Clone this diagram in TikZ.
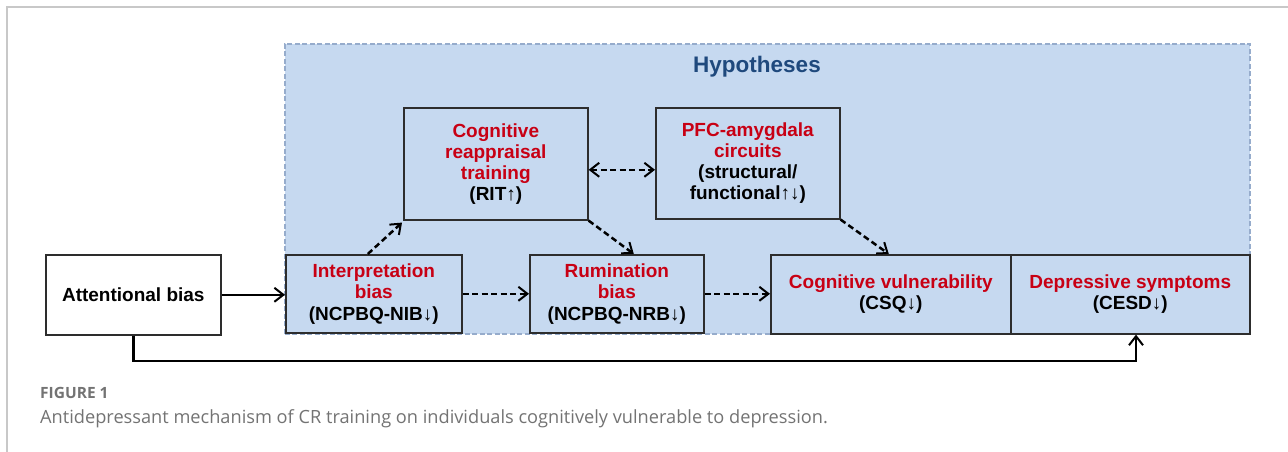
\documentclass[tikz,border=0pt]{standalone}
\usepackage{fontspec}
\setmainfont{Liberation Sans}
\newfontfamily\capfont{Open Sans}
\usetikzlibrary{arrows.meta}
\definecolor{cred}{RGB}{200,0,20}
\definecolor{hypfill}{RGB}{198,217,240}
\definecolor{hypedge}{RGB}{150,172,204}
\definecolor{titleblue}{RGB}{31,73,125}
\definecolor{edgegray}{RGB}{45,45,45}
\definecolor{framegray}{RGB}{200,200,200}
\definecolor{capgray}{RGB}{115,115,115}
\tikzset{
  box/.style={draw=edgegray, line width=1.6pt, fill=hypfill, anchor=north west,
    align=center, inner sep=2pt, font=\bfseries\fontsize{19}{21.5}\selectfont},
  whitebox/.style={box, fill=white},
  arr/.style={line width=2.5pt, -{Straight Barb[length=9pt,width=14pt,line width=2pt]}},
  darr/.style={arr, dash pattern=on 6pt off 3.5pt},
  ddarr/.style={darr, {Straight Barb[length=9pt,width=14pt,line width=2pt]}-{Straight Barb[length=9pt,width=14pt,line width=2pt]}},
}
\begin{document}
\begin{tikzpicture}[x=1pt,y=-1pt]
\useasboundingbox (0,0) rectangle (1288,452);
% outer frame
\draw[framegray, line width=1.5pt] (7,452) -- (7,7) -- (1288,7);
% hypotheses region
\node[draw=hypedge, fill=hypfill, line width=1.6pt, dash pattern=on 5pt off 2.5pt,
  anchor=north west, minimum width=965pt, minimum height=290pt, inner sep=0pt] (hyp) at (284,43) {};
\node[font=\bfseries\fontsize{22.5}{25}\selectfont, text=titleblue] (hyptitle) at (757,67) {Hypotheses};
% boxes
\node[whitebox, minimum width=175pt, minimum height=80pt] (att) at (45,254) {Attentional bias};
\node[box, minimum width=176pt, minimum height=78pt] (interp) at (285,254)
  {\textcolor{cred}{Interpretation}\\\textcolor{cred}{bias}\\(NCPBQ-NIB↓)};
\node[box, minimum width=174pt, minimum height=78pt] (rum) at (529,254)
  {\textcolor{cred}{Rumination}\\\textcolor{cred}{bias}\\(NCPBQ-NRB↓)};
\node[box, minimum width=240pt, minimum height=79pt] (cogv) at (770,254)
  {\textcolor{cred}{Cognitive vulnerability}\\(CSQ↓)};
\node[box, minimum width=239pt, minimum height=79pt] (dep) at (1010,254)
  {\textcolor{cred}{Depressive symptoms}\\(CESD↓)};
\node[box, minimum width=184pt, minimum height=112pt, font=\bfseries\fontsize{19}{21}\selectfont] (cr) at (403,107)
  {\textcolor{cred}{Cognitive}\\\textcolor{cred}{reappraisal}\\\textcolor{cred}{training}\\(RIT↑)};
\node[box, minimum width=184pt, minimum height=111pt, font=\bfseries\fontsize{19}{21}\selectfont] (pfc) at (655,107)
  {\textcolor{cred}{PFC-amygdala}\\\textcolor{cred}{circuits}\\(structural/\\functional↑↓)};
% connectors
\draw[arr] (att.east) -- (att.east -| interp.west);
\draw[darr] (interp.east) -- (interp.east -| rum.west);
\draw[darr] (rum.east) -- (rum.east -| cogv.west);
\draw[darr] ([xshift=-6pt]interp.north) -- ([xshift=-1pt,yshift=-2pt]cr.south west);
\draw[darr] (cr.south east) -- ([xshift=17pt]rum.north);
\draw[ddarr] ([yshift=-6pt]cr.east) -- ([yshift=-6pt]cr.east -| pfc.west);
\draw[darr] (pfc.south east) -- ([xshift=-2pt]cogv.north);
\coordinate (bl) at (1136,361);
\draw[arr] (att.south) |- (bl) -- (bl |- dep.south);
% caption
\node[anchor=base west, inner sep=0pt, text=capgray, font=\capfont\bfseries\fontsize{15.5}{17}\selectfont] (figlab) at (40,398) {FIGURE 1};
\node[anchor=base west, inner sep=0pt, text=capgray, font=\capfont\fontsize{18.2}{21}\selectfont] (caption) at (40,423) {Antidepressant mechanism of CR training on individuals cognitively vulnerable to depression.};
\end{tikzpicture}
\end{document}
